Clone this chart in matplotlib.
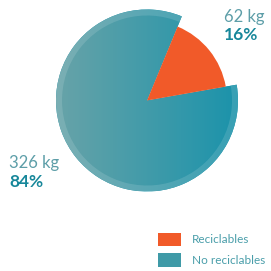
import numpy as np
import matplotlib.pyplot as plt
from matplotlib.colors import LinearSegmentedColormap
from matplotlib.patches import Patch

# data
categories = ["Reciclables", "No reciclables"]
kg = [62, 326]
kg_labels = ["62 kg", "326 kg"]
pct_labels = ["16%", "84%"]

orange = "#f15a29"
teal_left = "#68a3a8"
teal_right = "#1b93ab"
label_light = "#5d9ea8"
label_dark = "#17879a"

fig = plt.figure(figsize=(2.71, 2.71), dpi=100)
ax = fig.add_axes([0, 0, 1, 1])

cx, cy = 147, 170.5
R, r = 91, 80
start = 10

# teal (big) slice with a left-to-right gradient
big, _ = ax.pie(kg, radius=R, center=(cx, cy), startangle=start,
                colors=["none", teal_right], frame=True,
                wedgeprops=dict(linewidth=0))
cmap = LinearSegmentedColormap.from_list("tl", [teal_left, teal_right])
grad = np.linspace(0, 1, 256).reshape(1, -1)
im = ax.imshow(grad, cmap=cmap, extent=[cx - R, cx + R, cy - R, cy + R],
               aspect="auto", zorder=2)
im.set_clip_path(big[1])

# lighter rim
ax.pie(kg, radius=R, center=(cx, cy), startangle=start,
       colors=["none", "white"], frame=True,
       wedgeprops=dict(width=6, linewidth=0, alpha=0.13, zorder=3))

# orange (small) slice
ax.pie(kg, radius=r, center=(cx, cy), startangle=start,
       colors=[orange, "none"], frame=True,
       wedgeprops=dict(linewidth=0, zorder=3))

ax.set_xlim(0, 271)
ax.set_ylim(0, 271)
ax.set_aspect("equal")
ax.axis("off")

fam = ["Lato", "DejaVu Sans"]
ax.text(224, 249, kg_labels[0], fontsize=12, color=label_light, family=fam)
ax.text(224, 231, pct_labels[0], fontsize=12.5, color=label_dark, family=fam, fontweight="bold")
ax.text(9, 103, kg_labels[1], fontsize=12, color=label_light, family=fam)
ax.text(9, 84, pct_labels[1], fontsize=12.5, color=label_dark, family=fam, fontweight="bold")

handles = [Patch(facecolor=orange, edgecolor="none"),
           Patch(facecolor="#3f9aa7", edgecolor="none")]
leg = ax.legend(handles, categories, loc="upper left", frameon=False,
                bbox_to_anchor=(153, 43), bbox_transform=ax.transData,
                prop=dict(family=fam, size=8.5), labelcolor="#4a9eaa",
                handlelength=2.0, handleheight=1.4, handletextpad=0.9,
                labelspacing=0.6, borderaxespad=0)

fig.savefig("out.png", dpi=100)
